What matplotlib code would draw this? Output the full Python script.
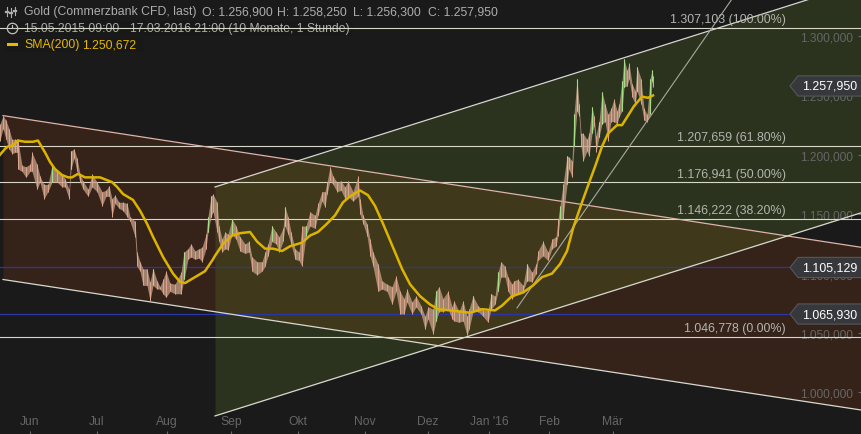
import matplotlib
matplotlib.use('Agg')
import matplotlib.pyplot as plt
import numpy as np

plt.rcParams['font.family'] = ['Liberation Sans', 'DejaVu Sans']

# x is the position along the (trading time) axis, y the price
month_pos = [30, 97, 167, 231, 298, 365, 428, 489, 549, 613]
month_names = ['Jun', 'Jul', 'Aug', 'Sep', 'Okt', 'Nov', 'Dez', "Jan '16", 'Feb', 'Mär']
price_ticks = [1.0, 1.05, 1.1, 1.15, 1.2, 1.25, 1.3]
price_labels = ['1.000,000', '1.050,000', '1.100,000', '1.150,000', '1.200,000', '1.250,000', '1.300,000']

fib_levels = [1.307103, 1.207659, 1.176941, 1.146222, 1.046778]
fib_labels = ['1.307,103 (100.00%)', '1.207,659 (61.80%)', '1.176,941 (50.00%)',
              '1.146,222 (38.20%)', '1.046,778 (0.00%)']
blue_levels = [1.105129, 1.06593]
tag_levels = [1.25795, 1.105129, 1.06593]
tag_labels = ['1.257,950', '1.105,129', '1.065,930']

bar_pos = [0, 3, 6, 9, 12, 15, 17, 18, 22, 26, 30, 32, 37, 40, 44, 48, 52, 57, 62, 65, 69, 71, 74, 77, 80, 83, 88, 92,
           97, 102, 106, 109, 112, 115, 119, 123, 127, 130, 135, 137, 140, 143, 147, 150, 153, 157, 160, 163, 166,
           170, 175, 181, 184, 188, 191, 195, 199, 202, 206, 208, 211, 213, 217, 219, 222, 225, 228, 232, 236, 240,
           245, 249, 252, 257, 262, 265, 268, 272, 276, 279, 283, 285, 288, 291, 295, 299, 302, 306, 310, 315, 318,
           322, 325, 327, 330, 333, 337, 341, 345, 348, 353, 358, 360, 363, 367, 370, 373, 378, 382, 387, 392, 396,
           400, 404, 407, 412, 416, 421, 425, 428, 433, 436, 439, 443, 448, 452, 454, 459, 463, 467, 469, 473, 478,
           483, 488, 491, 495, 498, 501, 505, 508, 512, 514, 518, 523, 527, 532, 536, 538, 543, 548, 552, 556, 558,
           560, 563, 567, 569, 572, 574, 577, 579, 581, 583, 587, 589, 592, 594, 596, 599, 602, 605, 608, 611, 614,
           617, 619, 622, 624, 627, 629, 632, 635, 637, 641, 644, 647, 650, 652, 653]
bar_high = [1.226, 1.233, 1.229, 1.222, 1.213, 1.213, 1.213, 1.212, 1.191, 1.190, 1.192, 1.202, 1.192, 1.182, 1.175,
            1.175, 1.191, 1.186, 1.184, 1.180, 1.171, 1.203, 1.205, 1.197, 1.184, 1.178, 1.171, 1.184, 1.177, 1.169,
            1.170, 1.174, 1.163, 1.166, 1.160, 1.160, 1.159, 1.148, 1.144, 1.118, 1.110, 1.104, 1.104, 1.093, 1.104,
            1.094, 1.089, 1.095, 1.102, 1.092, 1.091, 1.101, 1.118, 1.121, 1.125, 1.119, 1.121, 1.122, 1.133, 1.148,
            1.165, 1.167, 1.160, 1.140, 1.129, 1.135, 1.133, 1.146, 1.140, 1.131, 1.125, 1.127, 1.114, 1.110, 1.110,
            1.118, 1.125, 1.140, 1.135, 1.131, 1.138, 1.156, 1.148, 1.135, 1.121, 1.118, 1.140, 1.140, 1.152, 1.149,
            1.159, 1.169, 1.169, 1.177, 1.190, 1.182, 1.177, 1.178, 1.173, 1.178, 1.169, 1.182, 1.163, 1.149, 1.142,
            1.129, 1.118, 1.108, 1.094, 1.091, 1.089, 1.098, 1.085, 1.079, 1.087, 1.076, 1.081, 1.073, 1.064, 1.072,
            1.070, 1.085, 1.089, 1.079, 1.085, 1.072, 1.077, 1.068, 1.077, 1.064, 1.070, 1.081, 1.073, 1.069, 1.069,
            1.083, 1.081, 1.101, 1.110, 1.106, 1.097, 1.091, 1.094, 1.095, 1.090, 1.108, 1.101, 1.108, 1.119, 1.127,
            1.118, 1.129, 1.131, 1.146, 1.157, 1.175, 1.199, 1.198, 1.195, 1.234, 1.264, 1.243, 1.218, 1.218,
            1.213, 1.218, 1.240, 1.233, 1.216, 1.228, 1.253, 1.243, 1.234, 1.239, 1.247, 1.237, 1.243, 1.262, 1.281,
            1.271, 1.277, 1.260, 1.254, 1.274, 1.264, 1.239, 1.234, 1.264, 1.271, 1.266]
bar_low = [1.212, 1.222, 1.213, 1.205, 1.201, 1.202, 1.202, 1.188, 1.186, 1.181, 1.186, 1.186, 1.171, 1.177, 1.163,
           1.169, 1.177, 1.177, 1.173, 1.173, 1.163, 1.188, 1.197, 1.186, 1.177, 1.171, 1.165, 1.173, 1.169, 1.157,
           1.165, 1.165, 1.148, 1.159, 1.155, 1.153, 1.148, 1.144, 1.131, 1.106, 1.102, 1.090, 1.090, 1.077, 1.090,
           1.087, 1.087, 1.083, 1.080, 1.085, 1.083, 1.083, 1.095, 1.112, 1.114, 1.112, 1.113, 1.110, 1.121, 1.135,
           1.148, 1.152, 1.135, 1.127, 1.118, 1.121, 1.120, 1.133, 1.129, 1.119, 1.117, 1.118, 1.102, 1.099, 1.102,
           1.106, 1.115, 1.127, 1.125, 1.118, 1.127, 1.140, 1.133, 1.125, 1.112, 1.111, 1.106, 1.132, 1.140, 1.138,
           1.149, 1.161, 1.156, 1.167, 1.178, 1.175, 1.169, 1.170, 1.163, 1.165, 1.161, 1.165, 1.150, 1.142, 1.132,
           1.115, 1.106, 1.085, 1.087, 1.085, 1.074, 1.085, 1.066, 1.066, 1.076, 1.066, 1.072, 1.066, 1.053, 1.062,
           1.049, 1.060, 1.068, 1.068, 1.070, 1.062, 1.060, 1.059, 1.060, 1.048, 1.053, 1.068, 1.068, 1.064, 1.059,
           1.070, 1.074, 1.085, 1.097, 1.097, 1.085, 1.079, 1.081, 1.083, 1.085, 1.094, 1.093, 1.100, 1.111, 1.115,
           1.111, 1.121, 1.123, 1.132, 1.146, 1.146, 1.175, 1.188, 1.181, 1.207, 1.237, 1.233, 1.207, 1.195,
           1.203, 1.199, 1.218, 1.224, 1.202, 1.215, 1.226, 1.228, 1.212, 1.228, 1.228, 1.226, 1.232, 1.237, 1.257,
           1.258, 1.264, 1.249, 1.243, 1.254, 1.243, 1.229, 1.228, 1.234, 1.262, 1.257]

sma_pos = [0, 5, 8, 13, 18, 25, 33, 38, 45, 50, 55, 62, 68, 72, 78, 85, 95, 100, 112, 117, 123, 133, 140, 147, 153,
           163, 173, 180, 185, 193, 205, 213, 215, 223, 232, 240, 250, 257, 265, 273, 282, 290, 302, 310, 318, 327,
           335, 343, 350, 360, 368, 375, 383, 393, 402, 410, 420, 430, 438, 450, 460, 470, 482, 495, 502, 512, 523,
           533, 542, 552, 560, 567, 573, 582, 588, 595, 602, 608, 617, 622, 628, 634, 642, 648, 653]
sma_val = [1.200, 1.205, 1.207, 1.208, 1.212, 1.211, 1.211, 1.212, 1.202, 1.194, 1.188, 1.183, 1.181, 1.181, 1.184,
           1.181, 1.181, 1.181, 1.177, 1.173, 1.167, 1.162, 1.153, 1.142, 1.131, 1.114, 1.100, 1.093, 1.092, 1.096,
           1.102, 1.112, 1.115, 1.125, 1.132, 1.134, 1.135, 1.127, 1.121, 1.121, 1.119, 1.123, 1.126, 1.132, 1.135,
           1.142, 1.149, 1.160, 1.165, 1.170, 1.166, 1.157, 1.142, 1.122, 1.104, 1.091, 1.081, 1.074, 1.070, 1.069,
           1.068, 1.067, 1.070, 1.069, 1.073, 1.081, 1.084, 1.090, 1.097, 1.100, 1.108, 1.119, 1.138, 1.160, 1.174,
           1.190, 1.207, 1.218, 1.225, 1.225, 1.233, 1.241, 1.249, 1.248, 1.250]

# channels: (pos0, price0, pos1, price1)
down_top = (3, 1.233, 862, 1.122)
down_bottom = (3, 1.095, 862, 0.985)
up_top = (215, 1.1729, 810, 1.3312)
up_bottom = (215, 0.9801, 862, 1.1514)
trend = (517, 1.0710, 732, 1.3312)

BG = '#1a1a1a'
BROWN = '#35231a'
GREEN = '#2b331f'
OLIVE = '#3f381a'
W, H = 862, 435


def line_at(seg, x):
    return seg[1] + (seg[3] - seg[1]) * (x - seg[0]) / (seg[2] - seg[0])


fig = plt.figure(figsize=(8.62, 4.35), dpi=100, facecolor=BG)
ax = fig.add_axes([0, 0, 1, 1], facecolor=BG)
ax.set_xlim(0, W)
ax.set_ylim(0.9649, 1.3312)

# channel fills, overlap gets its own colour
xd = np.arange(3, W + 1)
ax.fill_between(xd, line_at(down_bottom, xd), line_at(down_top, xd), color=BROWN, lw=0, zorder=1)
xu = np.arange(215, W + 1)
ax.fill_between(xu, line_at(up_bottom, xu), line_at(up_top, xu), color=GREEN, lw=0, zorder=1.1)
lo = np.maximum(line_at(up_bottom, xu), line_at(down_bottom, xu))
hi = np.minimum(line_at(up_top, xu), line_at(down_top, xu))
ax.fill_between(xu, lo, hi, where=hi > lo, color=OLIVE, lw=0, zorder=1.2)

ax.plot([down_top[0], down_top[2]], [down_top[1], down_top[3]], color='#dfb3a8', lw=0.9, zorder=3)
for seg in (down_bottom, up_bottom, up_top):
    ax.plot([seg[0], seg[2]], [seg[1], seg[3]], color='#d8d8d0', lw=0.9, zorder=3)
ax.plot([trend[0], trend[2]], [trend[1], trend[3]], color='#a8a8a0', lw=0.8, zorder=3)

for level, label in zip(fib_levels, fib_labels):
    ax.axhline(level, color='#d8d8c8', lw=0.8, zorder=2.8)
    ax.annotate(label, (786, level), xytext=(0, 6), textcoords='offset points', ha='right', va='center',
                color='#b4b4ae', fontsize=8.9, zorder=4)
for level in blue_levels:
    ax.plot([0, 800], [level, level], color='#2c35a5', lw=0.9, zorder=2.9)

# price bars, green where the bar moved up from the previous one
bar_pos = np.array(bar_pos)
bar_high = np.array(bar_high)
bar_low = np.array(bar_low)
bar_mid = (bar_high + bar_low) / 2
up = np.diff(bar_mid, prepend=bar_mid[0]) > 0.012
ax.fill_between(bar_pos, bar_low, bar_high, color='#c8a088', alpha=0.75, lw=0, zorder=3.1)
ax.vlines(bar_pos, bar_low, bar_high, color='#dca68e', lw=0.7, zorder=3.2)
ax.vlines(bar_pos[up], bar_low[up], bar_high[up], color='#a4dc88', lw=0.8, zorder=3.3)

ax.plot(sma_pos, sma_val, color='#dcb400', lw=1.8, zorder=3.5, solid_joinstyle='round')

ax.set_xticks(month_pos)
ax.set_xticklabels(month_names)
ax.set_yticks(price_ticks)
ax.set_yticklabels(price_labels, ha='right')
ax.tick_params(axis='x', direction='in', length=2, width=0.8, color='#666666', labelcolor='#666666',
               labelsize=8.7, pad=-13.5)
ax.tick_params(axis='y', direction='in', length=3, width=0.8, color='#666666', labelcolor='#666666',
               labelsize=8.6, pad=-6.5, left=False, right=True, labelleft=False, labelright=True)
for side in ax.spines.values():
    side.set_visible(False)

# value tags on the right
for level, label in zip(tag_levels, tag_labels):
    ax.fill([790, 798, W, W, 798], [level, level + 0.0085, level + 0.0085, level - 0.0085, level - 0.0085],
            fc='#36383c', ec='#55575a', lw=0.8, zorder=6)
    ax.text(857, level, label, color='white', fontsize=8.9, ha='right', va='center', zorder=7)


# header block is laid out in pixels
def px(x, y):
    return x / W, 1 - y / H


tr = ax.transAxes
for x0, y0, x1, y1 in [(5, 22, 353, 37), (5, 38, 143, 53)]:
    ax.fill([px(x0, 0)[0], px(x1, 0)[0], px(x1, 0)[0], px(x0, 0)[0]],
            [px(0, y0)[1], px(0, y0)[1], px(0, y1)[1], px(0, y1)[1]], fc='#181818', lw=0, transform=tr, zorder=2.7)

ax.text(*px(24, 12.5), 'Gold (Commerzbank CFD, last)', transform=tr, color='#adadad', fontsize=8.8, va='center', zorder=8)
ax.text(*px(202, 12.5), 'O: 1.256,900', transform=tr, color='#adadad', fontsize=8.8, va='center', zorder=8)
ax.text(*px(277, 12.5), 'H: 1.258,250', transform=tr, color='#adadad', fontsize=8.8, va='center', zorder=8)
ax.text(*px(353, 12.5), 'L: 1.256,300', transform=tr, color='#adadad', fontsize=8.8, va='center', zorder=8)
ax.text(*px(428, 12.5), 'C: 1.257,950', transform=tr, color='#adadad', fontsize=8.8, va='center', zorder=8)
ax.text(*px(24, 29), '15.05.2015 09:00 - 17.03.2016 21:00 (10 Monate, 1 Stunde)', transform=tr, color='#adadad',
        fontsize=8.75, va='center', zorder=2.75)
ax.text(*px(24, 45), 'SMA(200)', transform=tr, color='#e6b800', fontsize=8.8, va='center', zorder=8)
ax.text(*px(82, 45), '1.250,672', transform=tr, color='#e6b800', fontsize=8.8, va='center', zorder=8)

# small icons
for x, y0, y1 in [(7, 8, 17), (11, 9, 18), (15, 8, 16)]:
    ax.plot([px(x, 0)[0]] * 2, [px(0, y0)[1], px(0, y1)[1]], color='#b0b0b0', lw=0.8, transform=tr, zorder=8)
    ax.plot([px(x - 1, 0)[0], px(x + 1, 0)[0]], [px(0, (y0 + y1) / 2)[1]] * 2, color='#b0b0b0', lw=1.6, transform=tr,
            zorder=8)
ax.plot(*px(12, 29), 'o', ms=7.5, mfc='none', mec='#c0c0c0', mew=0.9, transform=tr, zorder=8)
ax.plot([px(12, 0)[0], px(12, 0)[0], px(15, 0)[0]], [px(0, 26)[1], px(0, 29)[1], px(0, 29)[1]], color='#c0c0c0',
        lw=0.8, transform=tr, zorder=8)
ax.plot([px(8, 0)[0], px(16, 0)[0]], [px(0, 45)[1]] * 2, color='#e6b800', lw=2.2, transform=tr, zorder=8)

fig.savefig('out.png', dpi=100, facecolor=BG)
